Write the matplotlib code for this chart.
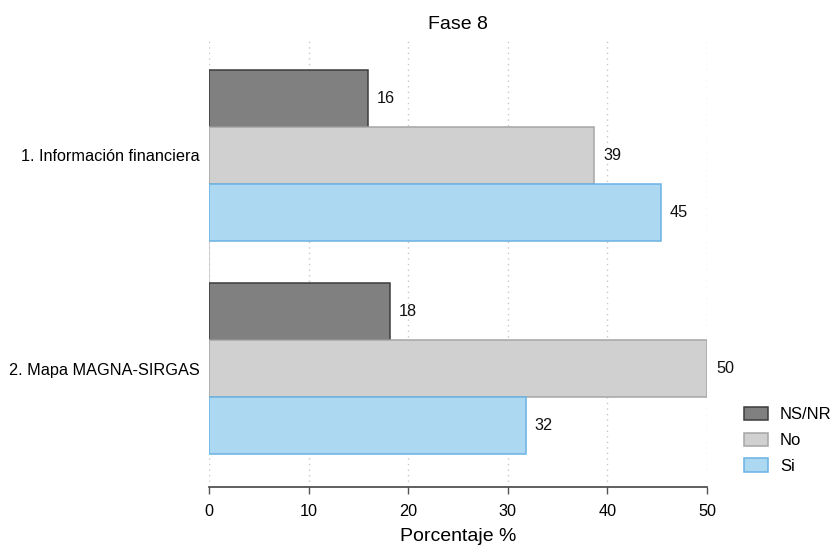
import numpy as np
import matplotlib
matplotlib.use("Agg")
import matplotlib.pyplot as plt

plt.rcParams['font.family'] = ['Liberation Sans', 'DejaVu Sans']

categorias = ["1. Información financiera", "2. Mapa MAGNA-SIRGAS"]
series = ["NS/NR", "No", "Si"]
ns_nr = [15.96, 18.17]
no = [38.65, 50.0]
si = [45.38, 31.8]

colores = ["#808080", "#d0d0d0", "#acd8f2"]
bordes = ["#3c3c3c", "#a6a6a6", "#6ab3e3"]

fig = plt.figure(figsize=(8.32, 5.45), dpi=100)
ax = fig.add_axes([209/832, 1 - 487/545, 498/832, 447/545])

y = np.arange(len(categorias))
h = 0.268
valores = [ns_nr, no, si]
for i, (nombre, vals) in enumerate(zip(series, valores)):
    bars = ax.barh(y + (i - 1) * h, vals, height=h, color=colores[i],
                   edgecolor=bordes[i], linewidth=1.1, label=nombre, zorder=3)
    ax.bar_label(bars, labels=[f"{v:.0f}" for v in vals], padding=6.5,
                 fontsize=11.7, color="#111111")

# linea base entre grupos
ax.vlines(0, y[0] + 1.5 * h, y[1] - 1.5 * h, color="#c8c8c8", lw=1.2, zorder=2)

ax.set_xlim(0, 50)
ax.set_ylim(1.556, -0.542)
ax.set_xticks(np.arange(0, 51, 10))
ax.set_yticks(y)
ax.set_yticklabels(categorias, fontsize=11.7)
ax.tick_params(axis='y', length=0, pad=6.5)
ax.tick_params(axis='x', length=5, width=1, color="#555555", labelsize=11.7, pad=7)
ax.grid(axis='x', linestyle=(0, (1, 3)), color="#c8c8c8", lw=1, zorder=0)

for s in ["top", "right", "left"]:
    ax.spines[s].set_visible(False)
ax.spines["bottom"].set_color("#444444")
ax.spines["bottom"].set_linewidth(1.2)

ax.set_xlabel("Porcentaje %", fontsize=14, labelpad=6.5)
ax.set_title("Fase 8", fontsize=14, pad=8)

fig.legend(loc="upper left", bbox_to_anchor=(744/832, 1 - 407/545),
           frameon=False, fontsize=12, handlelength=1.45, handleheight=0.85,
           handletextpad=0.7, labelspacing=0.62, borderpad=0, borderaxespad=0)

fig.savefig("out.png", dpi=100)
